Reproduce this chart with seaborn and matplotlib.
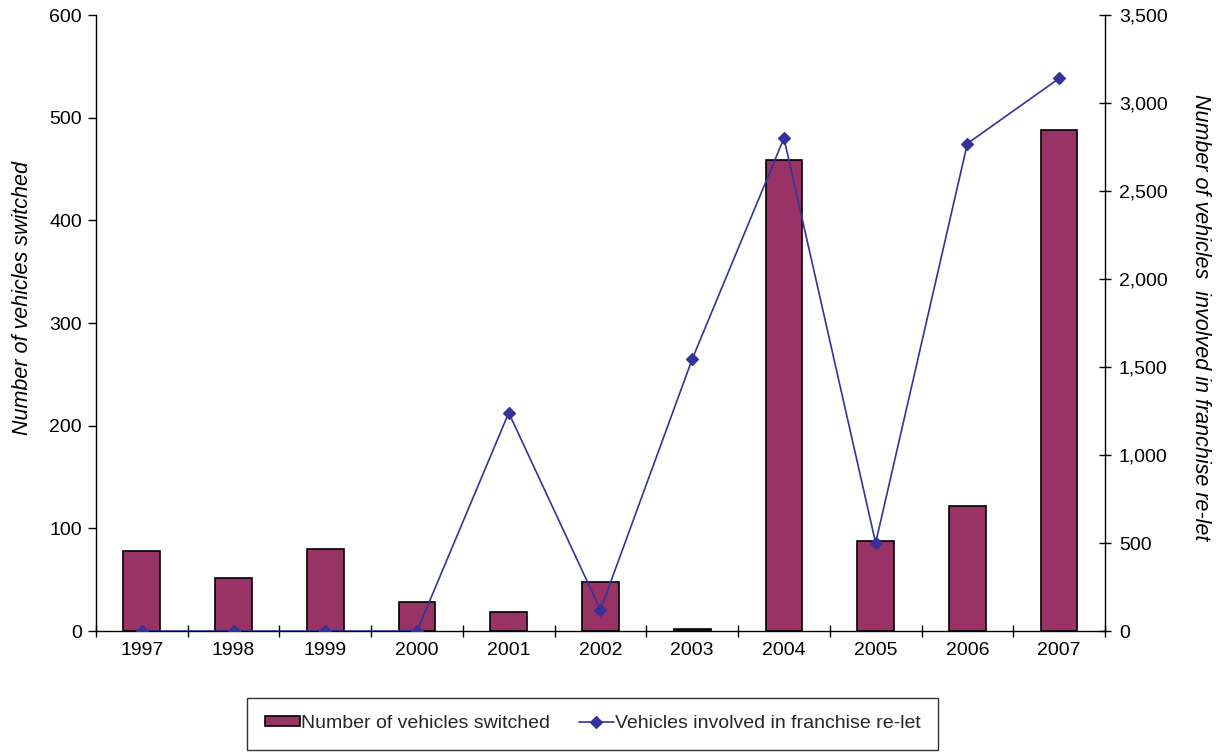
import matplotlib
matplotlib.use("Agg")
import matplotlib.pyplot as plt
import numpy as np
import pandas as pd
import seaborn as sns
from matplotlib.ticker import FuncFormatter, MultipleLocator, FixedLocator

# Data
years = ["1997", "1998", "1999", "2000", "2001", "2002", "2003", "2004", "2005", "2006", "2007"]
vehicles_switched = [78, 52, 80, 28, 19, 48, 2, 459, 88, 122, 488]
vehicles_relet = [0, 0, 0, 0, 1240, 120, 1545, 2800, 500, 2770, 3140]

bar_label = "Number of vehicles switched"
line_label = "Vehicles involved in franchise re-let"

df = pd.DataFrame({"year": years, "switched": vehicles_switched, "relet": vehicles_relet})

sns.set_theme(style="white")
plt.rcParams["font.family"] = ["Liberation Sans", "DejaVu Sans"]

fs = 14
fs_label = 15.5

fig = plt.figure(figsize=(12.18, 7.53), dpi=100)
ax = fig.add_axes([0.0788, 0.162, 0.8284, 0.818])

bar_color = "#993366"
line_color = "#333399"

sns.barplot(data=df, x="year", y="switched", order=years, color=bar_color,
            width=0.4, edgecolor="black", linewidth=1.2, saturation=1,
            ax=ax, label=bar_label)

ax2 = ax.twinx()
sns.pointplot(data=df, x="year", y="relet", order=years, color=line_color,
              markers="D", markersize=6.5, linewidth=1.2, ax=ax2, label=line_label)

n = len(years)
for a in (ax, ax2):
    a.set_xlim(-0.5, n - 0.5)
    a.spines["top"].set_visible(False)
    for s in ("left", "right", "bottom"):
        a.spines[s].set_color("black")
        a.spines[s].set_linewidth(1.0)

ax.set_ylim(0, 600)
ax.yaxis.set_major_locator(MultipleLocator(100))
ax2.set_ylim(0, 3500)
ax2.yaxis.set_major_locator(MultipleLocator(500))
ax2.yaxis.set_major_formatter(FuncFormatter(lambda v, p: f"{int(v):,}"))

ax.spines["right"].set_visible(False)
ax2.spines["left"].set_visible(False)
ax2.spines["bottom"].set_visible(False)

# category ticks on boundaries, labels at centres
ax.set_xticks(np.arange(n))
ax.set_xticklabels(years)
ax.xaxis.set_minor_locator(FixedLocator(np.arange(-0.5, n, 1.0)))
ax.tick_params(axis="x", which="major", length=0, labelsize=fs, pad=8, labelcolor="black")
ax.tick_params(axis="x", which="minor", direction="inout", length=9, width=1, color="black", bottom=True)
ax.tick_params(axis="y", direction="out", length=6, width=1, color="black", labelsize=fs,
               left=True, labelcolor="black", pad=4)
ax2.tick_params(axis="y", direction="inout", length=8, width=1, color="black", labelsize=fs,
                right=True, labelcolor="black", pad=6)

ax.set_xlabel("")
ax.set_ylabel(bar_label, fontsize=fs_label, fontstyle="italic", color="black")
ax.yaxis.set_label_coords(-0.062, 0.54)
ax2.set_ylabel("Number of vehicles  involved in franchise re-let", fontsize=fs_label,
               fontstyle="italic", color="black", rotation=270)
ax2.yaxis.set_label_coords(1.105, 0.51)
ax2.set_xlabel("")

ax.grid(False)
ax2.grid(False)

h1, l1 = ax.get_legend_handles_labels()
h2, l2 = ax2.get_legend_handles_labels()
leg = fig.legend(h1 + h2, l1 + l2, loc="center", bbox_to_anchor=(0.4865, 0.039), ncol=2,
                 fontsize=14, frameon=True, fancybox=False, edgecolor="black",
                 borderpad=0.9, handlelength=1.8, handleheight=0.45, handletextpad=0.05,
                 columnspacing=1.5)
leg.get_frame().set_linewidth(1.0)
for lg in (ax.get_legend(), ax2.get_legend()):
    if lg is not None:
        lg.remove()

fig.savefig("out.png", dpi=100)
